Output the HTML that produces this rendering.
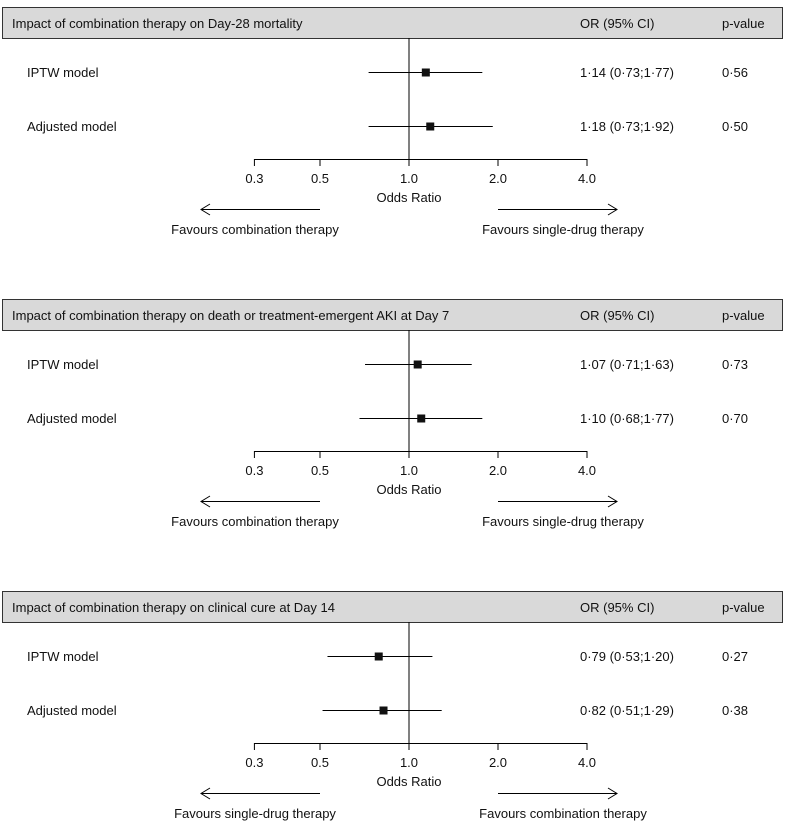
<!DOCTYPE html>
<html><head><meta charset="utf-8"><style>
body{margin:0;background:#fff;}
svg{display:block;font-family:"Liberation Sans",sans-serif;}
</style></head><body>
<svg id="chart" width="785" height="824"></svg>
<script>
const panelTitles=["Impact of combination therapy on Day-28 mortality","Impact of combination therapy on death or treatment-emergent AKI at Day 7","Impact of combination therapy on clinical cure at Day 14"];
const rowLabels=["IPTW model","Adjusted model"];
const orValues=[[1.14,1.18],[1.07,1.10],[0.79,0.82]];
const ciLow=[[0.73,0.73],[0.71,0.68],[0.53,0.51]];
const ciHigh=[[1.77,1.92],[1.63,1.77],[1.20,1.29]];
const pValues=[["0·56","0·50"],["0·73","0·70"],["0·27","0·38"]];
const tickValues=[0.3,0.5,1.0,2.0,4.0];
const tickLabels=["0.3","0.5","1.0","2.0","4.0"];
const favourLeft=["Favours combination therapy","Favours combination therapy","Favours single-drug therapy"];
const favourRight=["Favours single-drug therapy","Favours single-drug therapy","Favours combination therapy"];

const NS="http://www.w3.org/2000/svg";
const svg=document.getElementById('chart');
function x(v){return 409+89*Math.log2(v);}
function fmt(v){return v.toFixed(2).replace('.','·');}
function el(tag,attrs,text){const e=document.createElementNS(NS,tag);for(const k in attrs)e.setAttribute(k,attrs[k]);if(text!==undefined)e.textContent=text;svg.appendChild(e);return e;}
const panelY=[0,292,584];
panelY.forEach((oy,p)=>{
  let e=el('rect',{x:2.5,y:7.5+oy,width:780,height:31,fill:'#d9d9d9',stroke:'#333','stroke-width':1});
  
  
  e=el('text',{x:12,y:28+oy,'font-size':13,fill:'#111'},panelTitles[p]);
  
  
  e=el('text',{x:580,y:28+oy,'font-size':13,fill:'#111'},'OR (95% CI)');
  
  
  e=el('text',{x:722,y:28+oy,'font-size':13,fill:'#111'},'p-value');
  
  
  e=el('line',{x1:x(1),x2:x(1),y1:38+oy,y2:159+oy,stroke:'#000','stroke-width':1});
  
  
  e=el('line',{x1:x(tickValues[0]),x2:x(tickValues[tickValues.length-1]),y1:159.5+oy,y2:159.5+oy,stroke:'#000','stroke-width':1});
  
  
  tickValues.forEach((t,i)=>{
    let k=el('line',{x1:x(t),x2:x(t),y1:159+oy,y2:166+oy,stroke:'#000','stroke-width':1});
    
    
    k=el('text',{x:x(t),y:183+oy,'font-size':13,'text-anchor':'middle',fill:'#111'},tickLabels[i]);
    
    
  });
  e=el('text',{x:409,y:202+oy,'font-size':13,'text-anchor':'middle',fill:'#111'},'Odds Ratio');
  
  
  e=el('path',{d:`M320 ${209.5+oy}H201M210 ${204+oy}L201 ${209.5+oy}L210 ${215+oy}`,stroke:'#000',fill:'none','stroke-width':1});
  
  
  e=el('path',{d:`M498 ${209.5+oy}H617M608 ${204+oy}L617 ${209.5+oy}L608 ${215+oy}`,stroke:'#000',fill:'none','stroke-width':1});
  
  
  e=el('text',{x:255,y:234+oy,'font-size':13,'text-anchor':'middle',fill:'#111'},favourLeft[p]);
  
  
  e=el('text',{x:563,y:234+oy,'font-size':13,'text-anchor':'middle',fill:'#111'},favourRight[p]);
  
  
  rowLabels.forEach((lab,r)=>{
    const y=72+54*r+oy;
    let k=el('text',{x:27,y:y+5,'font-size':13,fill:'#111'},lab);
    
    
    k=el('line',{x1:x(ciLow[p][r]),x2:x(ciHigh[p][r]),y1:y+0.5,y2:y+0.5,stroke:'#000','stroke-width':1});
    
    
    k=el('rect',{x:x(orValues[p][r])-4,y:y-3.5,width:8,height:8,fill:'#111'});
    
    
    k=el('text',{x:580,y:y+5,'font-size':13,fill:'#111'},`${fmt(orValues[p][r])} (${fmt(ciLow[p][r])};${fmt(ciHigh[p][r])})`);
    
    
    k=el('text',{x:722,y:y+5,'font-size':13,fill:'#111'},pValues[p][r]);
    
    
  });
});
</script>
</body></html>
